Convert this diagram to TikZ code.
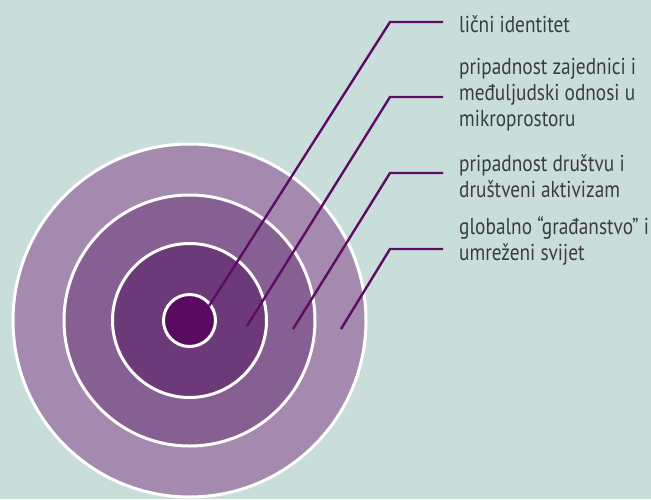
\documentclass[tikz,border=0pt]{standalone}
\usepackage{fontspec}
\setmainfont[FakeStretch=0.84]{PT Sans}
\definecolor{bg}{HTML}{C9DEDB}
\definecolor{ringA}{HTML}{A58AB0}
\definecolor{ringB}{HTML}{866092}
\definecolor{ringC}{HTML}{6C3A78}
\definecolor{ringD}{HTML}{5A0A5F}
\definecolor{leader}{HTML}{5C0C62}
\definecolor{txt}{HTML}{3C3C3C}
\tikzset{
  ring/.style={draw=white, line width=3pt},
  leaderline/.style={draw=leader, line width=2.4pt},
  lbl/.style={anchor=base west, inner sep=0pt, text=txt, font=\fontsize{23}{26}\selectfont}
}
\begin{document}
\begin{tikzpicture}[x=1pt,y=-1pt]
\useasboundingbox (0,0) rectangle (651,499);
\fill[bg] (0,0) rectangle (651,499);
\coordinate (c) at (189.5,320.5);
\fill[ringA,ring] (c) circle (176.5);
\fill[ringB,ring] (c) circle (125.5);
\fill[ringC,ring] (c) circle (77);
\fill[ringD,ring] (c) circle (26);
% leader endpoints
\coordinate (s1) at (209,306);
\coordinate (s2) at (247,326);
\coordinate (s3) at (293,329);
\coordinate (s4) at (341,329);
\coordinate (e1) at (390,22);
\coordinate (e2) at (390,97);
\coordinate (e3) at (390,173);
\coordinate (e4) at (390,249);
\coordinate (f1) at (443,22);
\coordinate (f2) at (443,97);
\coordinate (f3) at (443,173);
\coordinate (f4) at (443,249);
\draw[leaderline] (s1) -- (e1) -- (f1);
\draw[leaderline] (s2) -- (e2) -- (f2);
\draw[leaderline] (s3) -- (e3) -- (f3);
\draw[leaderline] (s4) -- (e4) -- (f4);
\node[lbl] (t1) at (459,32) {lični identitet};
\node[lbl] (t2) at (459,74) {\begin{tabular}[t]{@{}l@{}}pripadnost zajednici i\\međuljudski odnosi u\\mikroprostoru\end{tabular}};
\node[lbl] (t3) at (459,171.5) {\begin{tabular}[t]{@{}l@{}}pripadnost društvu i\\društveni aktivizam\end{tabular}};
\node[lbl] (t4) at (459,234.5) {\begin{tabular}[t]{@{}l@{}}globalno “građanstvo” i\\umreženi svijet\end{tabular}};
\end{tikzpicture}
\end{document}
